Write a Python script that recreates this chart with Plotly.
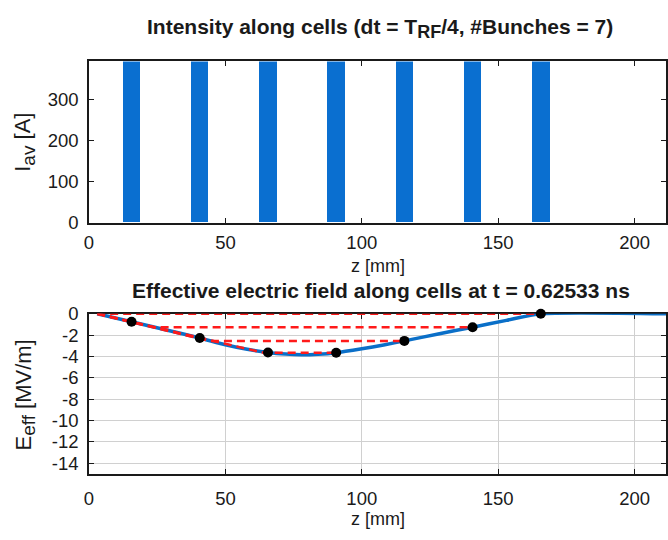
import plotly.graph_objects as go

# ---- data -----------------------------------------------------------------
# bunch centres along the structure [mm] and their average current [A]
bunch_z = [15.6, 40.6, 65.6, 90.6, 115.6, 140.6, 165.6]
bunch_current = [392, 392, 392, 392, 392, 392, 392]
bunch_length_mm = 6.4

# effective field profile along the cells [MV/m]
field_z = [3, 15.6, 28, 40.6, 50, 58, 65.6, 72, 78, 84, 90.6, 100, 108, 115.6,
           128, 140.6, 153, 165.6, 211.5]
field_e = [0, -0.75, -1.5, -2.27, -2.9, -3.33, -3.62, -3.78, -3.85, -3.8, -3.65,
           -3.28, -2.92, -2.54, -1.89, -1.26, -0.62, 0, 0]

# field seen by each bunch [MV/m]
bunch_e = [-0.75, -2.27, -3.62, -3.65, -2.54, -1.26, 0.0]

# construction lines: from field start down to the level of a downstream bunch,
# then across to that bunch
field_start_z = 3
level_left_z = [3, 24, 44, 64]
level_bunch_idx = [6, 5, 4, 3]

x_ticks = [0, 50, 100, 150, 200]
i_ticks = [0, 100, 200, 300]
e_ticks = [0, -2, -4, -6, -8, -10, -12, -14]
e_tick_labels = ["0", "-2", "-4", "-6", "-8", "-10", "-12", "-14"]

# ---- styling --------------------------------------------------------------
FONT = "Liberation Sans"
BLUE = "#0a6fd0"
LINE_BLUE = "#0a6fc8"
RED = "#ff1a1a"
AX = "#1a1a1a"
W, H = 668, 540
L, R = 89, 1
top_dom = [1 - 220.3 / H, 1 - 52.5 / H]
bot_dom = [1 - 481.7 / H, 1 - 315.0 / H]

fig = go.Figure()

# intensity bars
fig.add_trace(go.Bar(
    x=bunch_z, y=bunch_current, width=bunch_length_mm,
    marker=dict(color=BLUE, line=dict(width=0)),
    xaxis="x", yaxis="y", showlegend=False,
))

# effective field curve
fig.add_trace(go.Scatter(
    x=field_z, y=field_e, mode="lines",
    line=dict(color=LINE_BLUE, width=3.5, shape="spline", smoothing=0.6),
    xaxis="x2", yaxis="y2", showlegend=False, cliponaxis=False,
))

# red dashed construction lines
lx, ly = [], []
for zl, k in zip(level_left_z, level_bunch_idx):
    lvl = bunch_e[k]
    lx += [field_start_z, zl, bunch_z[k], None]
    ly += [0, lvl, lvl, None]
fig.add_trace(go.Scatter(
    x=lx, y=ly, mode="lines",
    line=dict(color=RED, width=2.5, dash="8px,5px"),
    xaxis="x2", yaxis="y2", showlegend=False, cliponaxis=False,
))

# bunch positions
fig.add_trace(go.Scatter(
    x=bunch_z, y=bunch_e, mode="markers",
    marker=dict(color="black", size=10),
    xaxis="x2", yaxis="y2", showlegend=False, cliponaxis=False,
))

axis_common = dict(
    showline=True, linecolor=AX, linewidth=1.5, mirror="ticks",
    ticks="inside", ticklen=5, tickwidth=1, tickcolor=AX,
    tickfont=dict(family=FONT, size=18.5, color=AX), zeroline=False,
)

fig.update_layout(
    width=W, height=H,
    margin=dict(l=L, r=R, t=0, b=0),
    paper_bgcolor="white", plot_bgcolor="white",
    bargap=0,
    xaxis=dict(axis_common, domain=[0, 1], range=[0, 211.5], tickvals=x_ticks,
               anchor="y", showgrid=False, ticklabelstandoff=2),
    yaxis=dict(axis_common, domain=top_dom, range=[0, 392], tickvals=i_ticks,
               anchor="x", showgrid=False, ticklabelstandoff=5),
    xaxis2=dict(axis_common, domain=[0, 1], range=[0, 211.5], tickvals=x_ticks,
                anchor="y2", showgrid=True, gridcolor="#d0d0d0", gridwidth=1.2,
                layer="below traces", ticklabelstandoff=7),
    yaxis2=dict(axis_common, domain=bot_dom, range=[-15, 0], tickvals=e_ticks,
                ticktext=e_tick_labels,
                anchor="x2", showgrid=True, gridcolor="#d0d0d0", gridwidth=1.2,
                layer="below traces", ticklabelstandoff=5),
)

def px_x(p):
    return (p - L) / (W - L - R)

def px_y(p):
    return 1 - p / H

ann = [
    dict(text="<b>Intensity along cells (dt = T<sub><span style='font-size:18px'>RF</span></sub>/4, #Bunches = 7)</b>",
         x=px_x(381), y=px_y(2), yanchor="top", font_size=21),
    dict(text="<b>Effective electric field along cells at t = 0.62533 ns</b>",
         x=px_x(382), y=px_y(291), yanchor="middle", font_size=21),
    dict(text="z [mm]", x=px_x(378), y=px_y(265), yanchor="middle", font_size=18),
    dict(text="z [mm]", x=px_x(378), y=px_y(529), yanchor="middle", font_size=18),
    dict(text="I<sub><span style='font-size:19px'>av</span></sub> [A]", x=px_x(25), y=px_y(137),
         textangle=-90, xanchor="center", yanchor="middle", font_size=22),
    dict(text="E<sub><span style='font-size:19px'>eff</span></sub> [MV/m]", x=px_x(25), y=px_y(400),
         textangle=-90, xanchor="center", yanchor="middle", font_size=22),
]
for a in ann:
    fs = a.pop("font_size")
    fig.add_annotation(**a, xref="paper", yref="paper", showarrow=False,
                       font=dict(family=FONT, size=fs, color=AX))

fig.write_html("out.html")
